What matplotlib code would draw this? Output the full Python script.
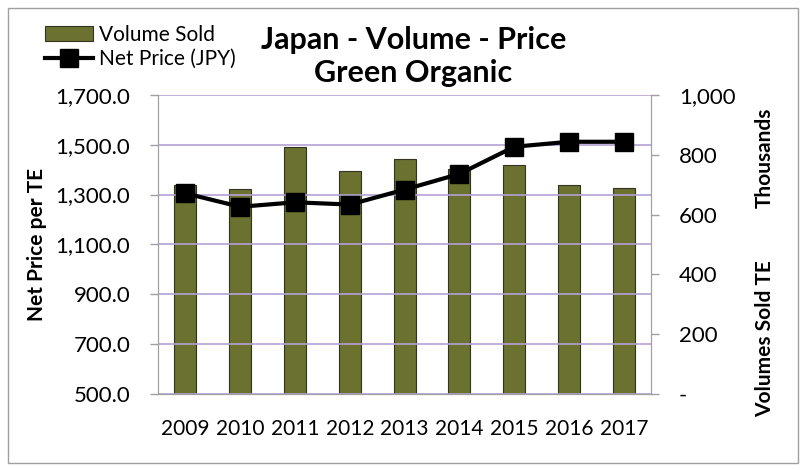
import matplotlib.pyplot as plt
from matplotlib.patches import Rectangle
from matplotlib.ticker import FuncFormatter

plt.rcParams['font.family'] = ['Lato', 'DejaVu Sans']

years = ['2009', '2010', '2011', '2012', '2013', '2014', '2015', '2016', '2017']
volume = [700, 685, 826, 744, 785, 752, 765, 699, 688]  # thousands TE
net_price = [1305, 1251, 1269, 1260, 1320, 1383, 1492, 1512, 1512]  # JPY

bar_color = '#6b712f'
grid_color = '#b3a2d6'
spine_color = '#a0a0a0'

fig = plt.figure(figsize=(8.06, 4.70), dpi=100)
fig.patches.append(Rectangle((0.01, 0.015), 0.98, 0.968, transform=fig.transFigure,
                             fill=False, edgecolor='#a0a0a0', lw=1))

ax = fig.add_axes([0.196, 0.162, 0.612, 0.636])
ax2 = ax.twinx()

x = range(len(years))
bars = ax2.bar(x, volume, width=0.4, color=bar_color, edgecolor='#333320', lw=0.8,
               label='Volume Sold', zorder=2)
line, = ax.plot(x, net_price, color='black', lw=3, marker='s', ms=13,
                label='Net Price (JPY)', zorder=5)

# price axis on top of bars
ax.set_zorder(ax2.get_zorder() + 1)
ax.patch.set_visible(False)

ax.set_ylim(500, 1700)
ax.set_yticks(range(500, 1701, 200))
ax.yaxis.set_major_formatter(FuncFormatter(lambda v, p: f'{v:,.1f}'))
ax.set_xlim(-0.5, 8.5)
ax.set_xticks(list(x))
ax.set_xticklabels(years)
ax.grid(axis='y', color=grid_color, lw=1.2, zorder=0)
ax2.set_ylim(0, 1000)
ax2.set_yticks(range(0, 1001, 200))
ax2.yaxis.set_major_formatter(FuncFormatter(lambda v, p: '-' if v == 0 else f'{v:,.0f}'))

for a in (ax, ax2):
    for s in a.spines.values():
        s.set_color(spine_color)
    a.spines['top'].set_visible(False)
    a.tick_params(colors='black', labelsize=16)
    a.tick_params(axis='y', color=spine_color, length=6, width=1)
ax.tick_params(axis='x', length=0, pad=18, labelsize=15)
ax.tick_params(axis='y', pad=14)
ax2.tick_params(axis='y', pad=14)

ax.set_ylabel('Net Price per TE', fontsize=15, fontweight='bold', labelpad=6)
fig.text(0.949, 0.665, 'Thousands', rotation=90, fontsize=15, fontweight='bold',
         ha='center', va='center')
fig.text(0.949, 0.28, 'Volumes Sold TE', rotation=90, fontsize=15, fontweight='bold',
         ha='center', va='center')

fig.text(0.513, 0.88, 'Japan - Volume - Price\nGreen Organic', fontsize=22,
         fontweight='bold', ha='center', va='center', linespacing=1.2)

fig.legend([bars, line], ['Volume Sold', 'Net Price (JPY)'], loc='upper left',
           bbox_to_anchor=(0.045, 0.965), frameon=False, fontsize=15,
           handlelength=2.3, handletextpad=0.3, labelspacing=0.2, borderaxespad=0)

fig.savefig('out.png', dpi=100)
